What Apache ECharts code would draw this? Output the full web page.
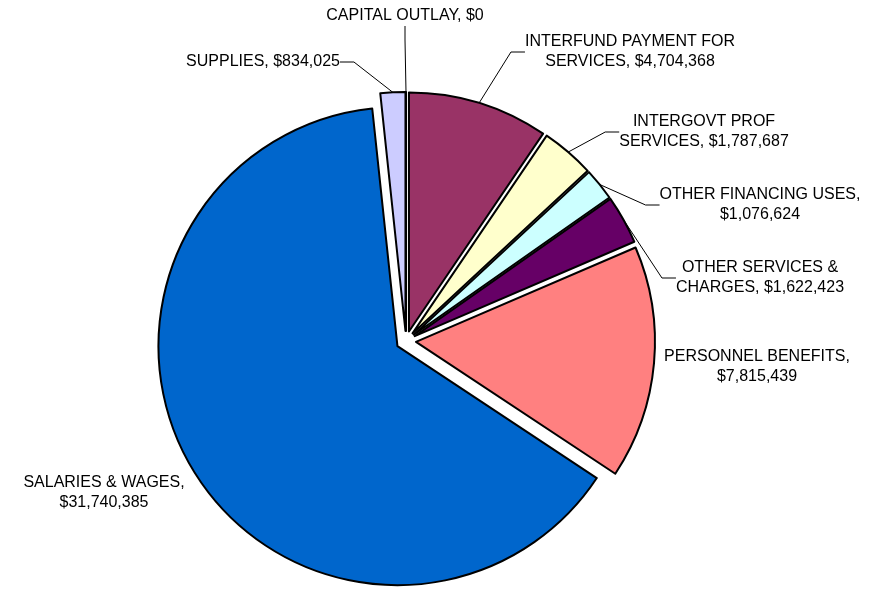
<!DOCTYPE html>
<html>
<head>
<meta charset="utf-8">
<script src="https://cdn.jsdelivr.net/npm/echarts@6/dist/echarts.min.js"></script>
<style>
    html, body { margin: 0; padding: 0; background: #fff; }
    #chart { width: 871px; height: 589px; }
</style>
</head>
<body>
<div id="chart"></div>
<script>
// expense categories, clockwise from 12 o'clock
var categories = ['CAPITAL OUTLAY', 'INTERFUND PAYMENT FOR\nSERVICES', 'INTERGOVT PROF\nSERVICES',
    'OTHER FINANCING USES', 'OTHER SERVICES &\nCHARGES', 'PERSONNEL BENEFITS',
    'SALARIES & WAGES', 'SUPPLIES'];
var amounts = [0, 4704368, 1787687, 1076624, 1622423, 7815439, 31740385, 834025];
var valueOnNewLine = [false, false, false, true, false, true, true, false];
var colors = ['#9999FF', '#993366', '#FFFFCC', '#CCFFFF', '#660066', '#FF8080', '#0066CC', '#CCCCFF'];
var hasLeader = [true, true, true, true, true, false, false, true];
// label block centres (as placed in the original)
var labelPos = [[405, 16], [630, 52], [704, 132], [760, 205], [760, 278], [757, 367], [104, 493], [263, 62]];

var CX = 406, CY = 341, R = 239, EXPLODE = 10;
var FONT = 'Liberation Sans, Arial, sans-serif';

var chart = echarts.init(document.getElementById('chart'));

var total = amounts.reduce(function (a, b) { return a + b; }, 0);

function labelText(i) {
    var txt = categories[i] + ',' + (valueOnNewLine[i] ? '\n' : ' ') + '$' + amounts[i].toLocaleString('en-US');
    return txt.split('\n').map(function (l) { return '{c|' + l + '}'; }).join('\n');
}

// every slice is pulled out along its own bisector, so each one gets its own pie series
var series = [];
var cum = 0;
amounts.forEach(function (v, k) {
    var mid = (cum + v / 2) / total * Math.PI * 2;
    cum += v;
    series.push({
        type: 'pie',
        silent: true,
        center: [CX + EXPLODE * Math.sin(mid), CY - EXPLODE * Math.cos(mid)],
        radius: R,
        startAngle: 90,
        clockwise: true,
        avoidLabelOverlap: false,
        emphasis: {disabled: true},
        label: {
            position: 'outside',
            color: '#000',
            fontFamily: FONT,
            fontSize: 16,
            lineHeight: 20,
            formatter: function (p) { return labelText(p.dataIndex); },
            rich: {
                c: {align: 'center', fontSize: 16, lineHeight: 20, color: '#000', fontFamily: FONT}
            }
        },
        labelLine: {
            length: 10,
            length2: 14,
            lineStyle: {color: '#000', width: 1}
        },
        labelLayout: function (params) {
            var p = labelPos[params.dataIndex];
            return {x: p[0], y: p[1], align: 'center', verticalAlign: 'middle'};
        },
        data: categories.map(function (name, i) {
            var own = i === k;
            return {
                name: name,
                value: amounts[i],
                itemStyle: own
                    ? {color: colors[i], borderColor: '#000', borderWidth: 2}
                    : {color: 'rgba(0,0,0,0)', borderWidth: 0},
                label: {show: own},
                labelLine: {show: own && hasLeader[i]}
            };
        })
    });
});

chart.setOption({
    animation: false,
    backgroundColor: '#fff',
    series: series
});
</script>
</body>
</html>
